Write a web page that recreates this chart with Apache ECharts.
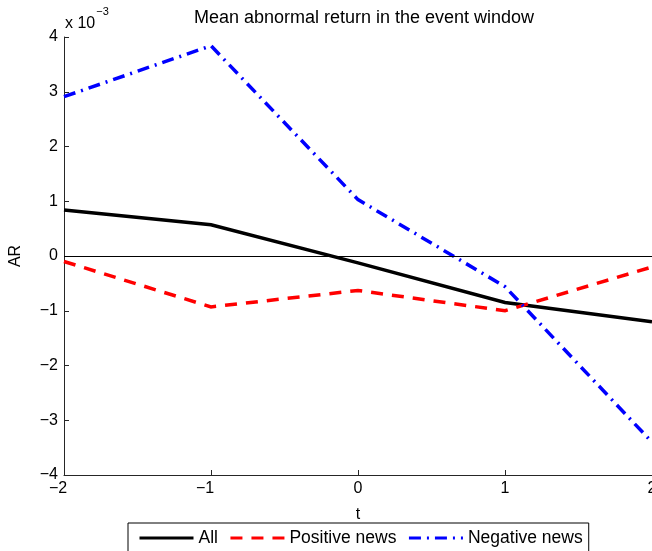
<!DOCTYPE html>
<html>
<head>
<meta charset="utf-8">
<script src="https://cdn.jsdelivr.net/npm/echarts@6/dist/echarts.min.js"></script>
<style>
  html, body { margin: 0; padding: 0; background: #fff; }
  #chart { width: 652px; height: 551px; }
</style>
</head>
<body>
<div id="chart"></div>
<script>
// Event days relative to the announcement
const eventDays = [-2, -1, 0, 1, 2];
// Mean abnormal returns, in units of 1e-3
const arAll = [0.84, 0.57, -0.125, -0.85, -1.2];
const arPositive = [-0.10, -0.93, -0.63, -1.0, -0.2];
const arNegative = [2.91, 3.84, 1.03, -0.56, -3.4];
const seriesNames = ['All', 'Positive news', 'Negative news'];
const yTicks = { min: -4, max: 4, step: 1 };
const xTicks = { min: -2, max: 2, step: 1 };

const FONT = '"Liberation Sans", Arial, Helvetica, sans-serif';
const minus = v => String(v).replace('-', '\u2212');
// negative x labels sit with the digit over the tick
const xLabel = v => v < 0 ? '{n|' + minus(v) + '}' : minus(v);
const pairs = ys => eventDays.map((d, i) => [d, ys[i]]);

const chart = echarts.init(document.getElementById('chart'), null, { renderer: 'canvas' });

const lineSeries = (name, ys, color, type, width) => ({
  name, type: 'line', data: pairs(ys),
  symbol: 'none', showSymbol: false, clip: true,
  lineStyle: { color, width, type, cap: 'butt', join: 'miter' },
  itemStyle: { color },
  z: 3
});

const axisLine = { show: true, onZero: false, lineStyle: { color: '#262626', width: 1 } };
const axisTick = { show: true, inside: true, length: 5, lineStyle: { color: '#262626' } };
const labelText = { fontFamily: FONT, fontSize: 16, color: '#000' };

const option = {
  animation: false,
  backgroundColor: '#fff',
  title: {
    text: 'Mean abnormal return in the event window',
    left: 359, top: 4, textAlign: 'center',
    textStyle: { fontFamily: FONT, fontSize: 18, fontWeight: 'normal', color: '#000' }
  },
  grid: { left: 64, right: 0, top: 37, bottom: 76, containLabel: false, outerBoundsMode: 'none' },
  xAxis: {
    type: 'value', min: xTicks.min, max: xTicks.max, interval: xTicks.step,
    name: 't', nameLocation: 'middle', nameGap: 32,
    nameTextStyle: labelText,
    axisLine, axisTick,
    axisLabel: Object.assign({ margin: 6, formatter: xLabel,
      rich: { n: Object.assign({ padding: [0, 12, 0, 0] }, labelText) } }, labelText),
    splitLine: { show: false }
  },
  yAxis: {
    type: 'value', min: yTicks.min, max: yTicks.max, interval: yTicks.step,
    name: 'AR', nameLocation: 'middle', nameGap: 40, nameRotate: 90,
    nameTextStyle: labelText,
    axisLine, axisTick,
    axisLabel: Object.assign({ margin: 6, formatter: minus }, labelText),
    splitLine: { show: false }
  },
  legend: {
    data: seriesNames,
    left: 128, top: 523,
    orient: 'horizontal',
    borderColor: '#000', borderWidth: 1,
    padding: [6, 6, 10, 10],
    itemWidth: 54, itemHeight: 14, itemGap: 11,
    itemStyle: { opacity: 0 },
    lineStyle: { width: 3 },
    textStyle: { fontFamily: FONT, fontSize: 17.5, color: '#000' },
    selectedMode: false
  },
  graphic: [{
    type: 'text', left: 65, top: 6,
    style: {
      text: '{b|x 10}{s|\u22123}',
      rich: {
        b: { fontFamily: FONT, fontSize: 16, color: '#000', verticalAlign: 'bottom', padding: [10, 0, 0, 0] },
        s: { fontFamily: FONT, fontSize: 11, color: '#000', verticalAlign: 'top', padding: [0, 0, 6, 1] }
      }
    }
  }],
  series: [
    Object.assign(lineSeries(seriesNames[0], arAll, '#000000', 'solid', 3.5), {
      markLine: {
        silent: true, symbol: 'none', label: { show: false },
        lineStyle: { color: '#000', width: 1, type: 'solid' },
        data: [{ yAxis: 0 }]
      }
    }),
    lineSeries(seriesNames[1], arPositive, '#ff0000', [12, 9], 3.5),
    lineSeries(seriesNames[2], arNegative, '#0000ff', [12, 6, 2, 6], 3.5)
  ]
};

chart.setOption(option);
</script>
</body>
</html>
